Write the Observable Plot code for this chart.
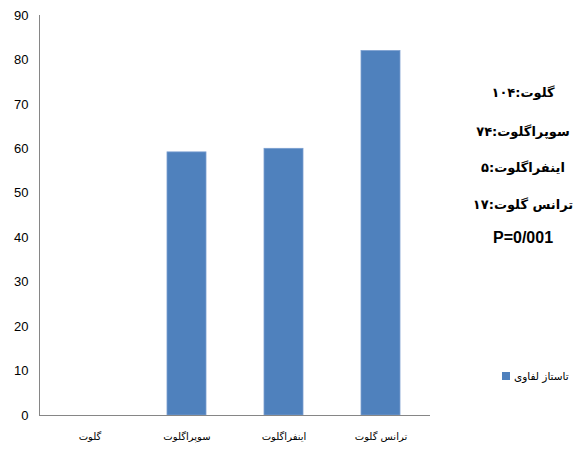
<!DOCTYPE html>
<html><head><meta charset="utf-8">
<script src="https://cdn.jsdelivr.net/npm/d3@7"></script>
<script src="https://cdn.jsdelivr.net/npm/@observablehq/plot@0.6"></script>
<style>
body{margin:0;background:#fff;}
#wrap{position:relative;width:574px;height:454px;}
.note{position:absolute;left:440px;width:166px;height:20px;line-height:20px;text-align:center;font-family:"DejaVu Sans",sans-serif;font-weight:bold;font-size:13px;color:#000;direction:rtl;white-space:nowrap;}
#legend{position:absolute;left:502px;top:370px;font-family:"DejaVu Sans",sans-serif;font-size:10.5px;color:#000;display:flex;align-items:center;gap:4px;white-space:nowrap;}
#legend .sw{width:8px;height:8px;background:#4F81BD;display:inline-block;}
</style></head>
<body><div id="wrap"></div>
<script>
const categories = ["گلوت", "سوپراگلوت", "اینفراگلوت", "ترانس گلوت"];
const values = [0, 59.2, 60, 82];
const yTicks = [0, 10, 20, 30, 40, 50, 60, 70, 80, 90];
const notes = ["گلوت:۱۰۴", "سوپراگلوت:۷۴", "اینفراگلوت:۵", "ترانس گلوت:۱۷", "P=0/001"];
const seriesName = "تاستاز لفاوی";

const data = categories.map((c, i) => ({cat: c, v: values[i]}));

const chart = Plot.plot({
  width: 574, height: 454,
  marginLeft: 39, marginRight: 144, marginTop: 15, marginBottom: 39,
  style: {fontFamily: "'Liberation Sans Narrow','Liberation Sans',sans-serif", fontSize: "12px", color: "#000", background: "#fff"},
  x: {domain: categories, paddingInner: 0.6, paddingOuter: 0.3, label: null},
  y: {domain: [0, 90], label: null},
  marks: [
    Plot.barY(data, {x: "cat", y: "v", fill: "#4F81BD", stroke: "#7A9FD0", strokeWidth: 0.8}),
    Plot.ruleY([0], {stroke: "#868686", strokeWidth: 1}),
    Plot.frame({anchor: "left", stroke: "#868686"}),
    Plot.axisY({ticks: yTicks, tickSize: 0, tickPadding: 11, fontSize: 13, label: null}),
    Plot.axisX({tickSize: 0, tickPadding: 17, fontSize: 10, label: null, fontFamily: "'DejaVu Sans',sans-serif"})
  ]
});
const wrap = document.getElementById("wrap");
wrap.appendChild(chart);
const tops = [83, 122, 158, 195, 228];
notes.forEach((t, i) => {
  const d = document.createElement("div");
  d.className = "note"; d.textContent = t; d.style.top = tops[i] + "px";
  if (i === 4) { d.style.direction = "ltr"; d.style.fontFamily = "'Liberation Sans Narrow','Liberation Sans',sans-serif"; d.style.fontSize = "16px"; }
  wrap.appendChild(d);
});
const lg = document.createElement("div");
lg.id = "legend";
lg.innerHTML = '<span class="sw"></span><span>' + seriesName + '</span>';
wrap.appendChild(lg);
</script></body></html>
